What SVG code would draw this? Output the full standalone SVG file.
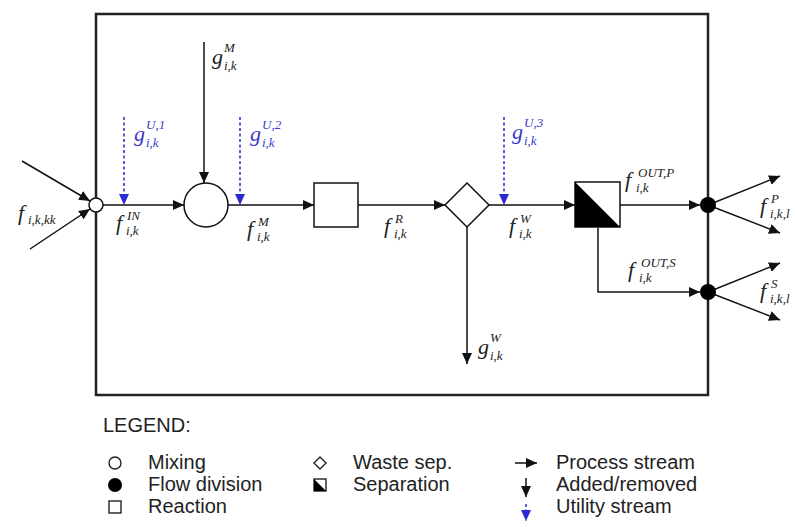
<svg xmlns="http://www.w3.org/2000/svg" width="795" height="528" viewBox="0 0 795 528">
<style>
.ln{stroke:#111;stroke-width:1.5;fill:none}
.ut{stroke:#2a2ad0;stroke-width:1.5;fill:none;stroke-dasharray:3,2.5}
.m{font-family:"Liberation Serif",serif;font-style:italic;font-size:22px;fill:#222}
.s{font-family:"Liberation Serif",serif;font-style:italic;font-size:13px;fill:#222}
.mb{font-family:"Liberation Serif",serif;font-style:italic;font-size:22px;fill:#3a3acc}
.sb{font-family:"Liberation Serif",serif;font-style:italic;font-size:13px;fill:#3a3acc}
.lg{font-family:"Liberation Sans",Arial,sans-serif;font-size:20px;fill:#222}
</style>
<defs>
<marker id="ah" markerUnits="userSpaceOnUse" markerWidth="12" markerHeight="10" refX="11" refY="5" orient="auto"><path d="M0,0 L11,5 L0,10 z" fill="#111"/></marker>
<marker id="ab" markerUnits="userSpaceOnUse" markerWidth="12" markerHeight="10" refX="11" refY="5" orient="auto"><path d="M0,0 L11,5 L0,10 z" fill="#2a2ad0"/></marker>
</defs>
<rect width="795" height="528" fill="#fff"/>
<rect id="boundary" x="96" y="14" width="612" height="381" fill="none" stroke="#222" stroke-width="2.5"/>

<g id="connectors">
<line class="ln" x1="22" y1="161" x2="90" y2="201" marker-end="url(#ah)"/>
<line class="ln" x1="30" y1="249" x2="90" y2="209" marker-end="url(#ah)"/>
<line class="ln" x1="103" y1="205" x2="184" y2="205" marker-end="url(#ah)"/>
<line class="ln" x1="204" y1="42" x2="204" y2="183" marker-end="url(#ah)"/>
<line class="ln" x1="228" y1="205" x2="314" y2="205" marker-end="url(#ah)"/>
<line class="ln" x1="358" y1="205" x2="445" y2="205" marker-end="url(#ah)"/>
<line class="ln" x1="489" y1="205" x2="575" y2="205" marker-end="url(#ah)"/>
<line class="ln" x1="467" y1="227" x2="467" y2="364" marker-end="url(#ah)"/>
<line class="ln" x1="620" y1="205" x2="700" y2="205" marker-end="url(#ah)"/>
<polyline class="ln" points="598,228 598,292 700,292" marker-end="url(#ah)"/>
<line class="ln" x1="708" y1="205" x2="780" y2="176" marker-end="url(#ah)"/>
<line class="ln" x1="708" y1="205" x2="780" y2="233" marker-end="url(#ah)"/>
<line class="ln" x1="708" y1="292" x2="780" y2="263" marker-end="url(#ah)"/>
<line class="ln" x1="708" y1="292" x2="780" y2="320" marker-end="url(#ah)"/>
<line class="ut" x1="124" y1="117" x2="124" y2="205" marker-end="url(#ab)"/>
<line class="ut" x1="240" y1="117" x2="240" y2="205" marker-end="url(#ab)"/>
<line class="ut" x1="504" y1="117" x2="504" y2="205" marker-end="url(#ab)"/>
</g>

<g id="mixing"><circle cx="96" cy="205" r="7" fill="#fff" stroke="#111" stroke-width="1.5"/></g>
<g id="mixer"><circle cx="206" cy="205" r="22" fill="#fff" stroke="#111" stroke-width="1.5"/></g>
<g id="reaction"><rect x="314" y="183" width="44" height="44" fill="#fff" stroke="#111" stroke-width="1.5"/></g>
<g id="waste-sep"><polygon points="467,183 489,205 467,227 445,205" fill="#fff" stroke="#111" stroke-width="1.5"/></g>
<g id="separation"><rect x="575" y="182" width="45" height="45" fill="#fff" stroke="#111" stroke-width="1.5"/><polygon points="575,182 575,227 620,227" fill="#000"/></g>
<g id="div-p"><circle cx="708" cy="205" r="8" fill="#000"/></g>
<g id="div-s"><circle cx="708" cy="292" r="8" fill="#000"/></g>

<g id="labels">
<text class="m" x="18" y="220">f</text><text class="s" x="28" y="224">i,k,kk</text>
<text class="m" x="116" y="230">f</text><text class="s" x="127" y="220">IN</text><text class="s" x="126" y="235">i,k</text>
<text class="m" x="212" y="64">g</text><text class="s" x="224" y="52">M</text><text class="s" x="224" y="70">i,k</text>
<text class="mb" x="134" y="141">g</text><text class="sb" x="146" y="129">U,1</text><text class="sb" x="146" y="147">i,k</text>
<text class="mb" x="250" y="141">g</text><text class="sb" x="262" y="129">U,2</text><text class="sb" x="262" y="147">i,k</text>
<text class="mb" x="512" y="139">g</text><text class="sb" x="524" y="127">U,3</text><text class="sb" x="524" y="145">i,k</text>
<text class="m" x="247" y="236">f</text><text class="s" x="258" y="226">M</text><text class="s" x="257" y="241">i,k</text>
<text class="m" x="384" y="233">f</text><text class="s" x="395" y="223">R</text><text class="s" x="394" y="238">i,k</text>
<text class="m" x="509" y="233">f</text><text class="s" x="520" y="223">W</text><text class="s" x="519" y="238">i,k</text>
<text class="m" x="478" y="354">g</text><text class="s" x="490" y="342">W</text><text class="s" x="490" y="360">i,k</text>
<text class="m" x="625" y="187">f</text><text class="s" x="638" y="177">OUT,P</text><text class="s" x="636" y="192">i,k</text>
<text class="m" x="628" y="277">f</text><text class="s" x="641" y="267">OUT,S</text><text class="s" x="639" y="282">i,k</text>
<text class="m" x="760" y="213">f</text><text class="s" x="771" y="203">P</text><text class="s" x="770" y="218">i,k,l</text>
<text class="m" x="760" y="298">f</text><text class="s" x="771" y="288">S</text><text class="s" x="770" y="303">i,k,l</text>
</g>

<g id="legend">
<text class="lg" x="103" y="432">LEGEND:</text>
<circle cx="115" cy="463" r="6" fill="#fff" stroke="#222" stroke-width="1.4"/>
<text class="lg" x="148" y="469">Mixing</text>
<circle cx="115" cy="485" r="7" fill="#000"/>
<text class="lg" x="148" y="491">Flow division</text>
<rect x="109" y="501" width="12" height="12" fill="#fff" stroke="#222" stroke-width="1.4"/>
<text class="lg" x="148" y="513">Reaction</text>
<polygon points="320,457 326,463 320,469 314,463" fill="#fff" stroke="#222" stroke-width="1.4"/>
<text class="lg" x="353" y="469">Waste sep.</text>
<rect x="314" y="479" width="12" height="12" fill="#fff" stroke="#222" stroke-width="1.4"/>
<polygon points="314,479 314,491 326,491" fill="#000"/>
<text class="lg" x="353" y="491">Separation</text>
<line class="ln" x1="515" y1="463" x2="537" y2="463" marker-end="url(#ah)"/>
<text class="lg" x="556" y="469">Process stream</text>
<line class="ln" x1="526" y1="478" x2="526" y2="497" marker-end="url(#ah)"/>
<text class="lg" x="556" y="491">Added/removed</text>
<line class="ut" x1="526" y1="504" x2="526" y2="521" marker-end="url(#ab)"/>
<text class="lg" x="556" y="513">Utility stream</text>
</g>
</svg>
